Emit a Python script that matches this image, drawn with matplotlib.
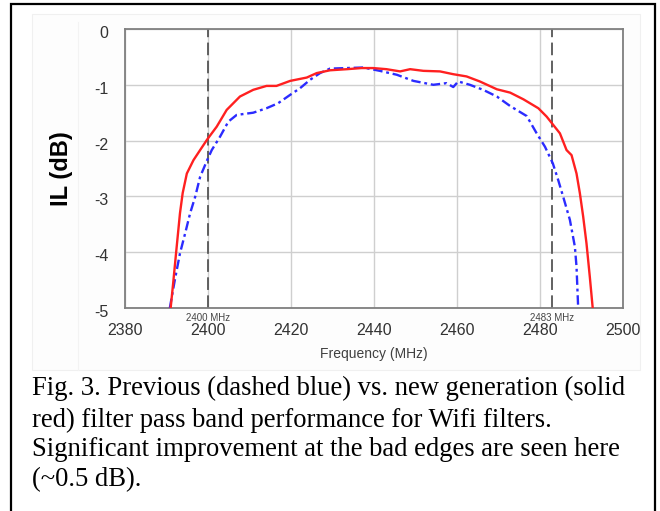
import matplotlib
matplotlib.use("Agg")
import matplotlib.pyplot as plt
import matplotlib.transforms as mtransforms
from matplotlib.patches import Rectangle

plt.rcParams["axes.unicode_minus"] = False

# ---- data ----
red_freq = [2391.0, 2391.6, 2392.3, 2393.25, 2393.9, 2394.9, 2396.5, 2398.1, 2399.8,
            2402.1, 2404.5, 2407.7, 2410.9, 2414.1, 2416.5, 2419.8, 2423.8, 2426.2,
            2429.4, 2433.5, 2437.0, 2439.8, 2443.0, 2446.3, 2448.7, 2451.9, 2455.9,
            2459.1, 2462.3, 2465.5, 2469.6, 2472.8, 2476.0, 2479.6, 2481.6, 2483.2,
            2484.8, 2486.4, 2487.6, 2488.8, 2489.6, 2490.4, 2491.2, 2492.0, 2492.7]
red_il = [-5.0, -4.56, -4.02, -3.30, -2.94, -2.59, -2.35, -2.17, -1.98,
          -1.75, -1.45, -1.21, -1.09, -1.02, -1.02, -0.93, -0.87, -0.79,
          -0.74, -0.72, -0.70, -0.70, -0.72, -0.76, -0.72, -0.75, -0.76,
          -0.81, -0.85, -0.94, -1.08, -1.14, -1.26, -1.42, -1.57, -1.72,
          -1.87, -2.17, -2.26, -2.59, -2.94, -3.36, -3.84, -4.44, -5.0]

blue_freq = [2390.8, 2392.0, 2393.25, 2394.5, 2395.7, 2396.9, 2398.1, 2399.8, 2400.9,
             2402.9, 2404.9, 2406.9, 2410.9, 2414.1, 2416.9, 2419.8, 2422.2, 2424.6,
             2427.0, 2429.4, 2433.4, 2437.4, 2441.4, 2445.5, 2449.5, 2454.3, 2457.5,
             2459.1, 2460.3, 2463.1, 2466.3, 2469.6, 2472.8, 2476.8, 2479.2, 2481.2,
             2483.1, 2484.4, 2485.6, 2487.2, 2488.4, 2488.8, 2489.2]
blue_il = [-5.0, -4.50, -4.02, -3.66, -3.30, -3.01, -2.65, -2.35, -2.17,
           -1.93, -1.66, -1.54, -1.50, -1.42, -1.33, -1.18, -1.06, -0.91,
           -0.79, -0.71, -0.70, -0.69, -0.75, -0.82, -0.93, -1.00, -0.97,
           -1.04, -0.94, -1.00, -1.09, -1.21, -1.38, -1.56, -1.87, -2.11,
           -2.41, -2.71, -3.01, -3.42, -3.90, -4.26, -5.0]

x_ticks = [2380, 2400, 2420, 2440, 2460, 2480, 2500]
y_ticks = [0, -1, -2, -3, -4, -5]
band_edges = [2400, 2483]
band_labels = ["2400 MHz", "2483 MHz"]

caption_lines = [
    "Fig. 3. Previous (dashed blue) vs. new generation (solid",
    "red) filter pass band performance for Wifi filters.",
    "Significant improvement at the bad edges are seen here",
    "(~0.5 dB).",
]

# ---- figure ----
W, H = 660, 511
fig = plt.figure(figsize=(W / 100, H / 100), dpi=100)
fig.patch.set_facecolor("white")

def fx(px):
    return px / W

def fy(py):
    return 1 - py / H

# outer border
fig.patches.append(Rectangle((fx(11), -0.02), fx(655) - fx(11), fy(4) + 0.02,
                             transform=fig.transFigure, fill=False,
                             edgecolor="black", linewidth=1.6, zorder=-2))
# faint chart panel
fig.patches.append(Rectangle((fx(32), fy(370)), fx(640) - fx(32), fy(14) - fy(370),
                             transform=fig.transFigure, facecolor="#fdfdfd",
                             edgecolor="#f0f0f0", linewidth=0.8, zorder=-2))
fig.add_artist(plt.Line2D([fx(78), fx(78)], [fy(370), fy(22)], transform=fig.transFigure,
                          color="#f3f3f3", linewidth=0.8, zorder=-1))

ax = fig.add_axes([fx(125), fy(308), fx(623) - fx(125), fy(29) - fy(308)])
ax.set_zorder(5)
ax.set_facecolor("white")
ax.set_xlim(2380, 2500)
ax.set_ylim(-5, 0)
ax.set_xticks(x_ticks)
ax.set_yticks(y_ticks)
ax.grid(True, color="#cfcfcf", linewidth=1.0)
ax.set_axisbelow(True)
for s in ax.spines.values():
    s.set_color("#7f7f7f")
    s.set_linewidth(1.3)
ax.tick_params(length=0, labelsize=11.5, labelcolor="#333333")
ax.tick_params(axis="y", pad=12)
ax.tick_params(axis="x", pad=11)
shift = mtransforms.ScaledTranslation(0, -3 / 100, fig.dpi_scale_trans)
for lab in ax.get_xticklabels() + ax.get_yticklabels():
    lab.set_family("Liberation Sans")
for lab in ax.get_yticklabels():
    lab.set_transform(lab.get_transform() + shift)

for xe in band_edges:
    ax.axvline(xe, color="#555555", linewidth=1.3, dashes=(7, 3), zorder=2)

ax.plot(blue_freq, blue_il, color="#2b2bff", linewidth=1.7,
        dashes=(4, 1.6, 1.2, 1.6), zorder=3)
ax.plot(red_freq, red_il, color="#ff2020", linewidth=1.7, zorder=4)

for xe, lab in zip(band_edges, band_labels):
    ax.annotate(lab, xy=(xe, -5), xycoords="data", xytext=(0, -7),
                textcoords="offset points", ha="center", va="center",
                fontsize=7, color="#444444", family="Liberation Sans",
                annotation_clip=False)

ax.set_xlabel("Frequency (MHz)", fontsize=10, color="#404040",
              family="Liberation Sans", labelpad=6)
ax.set_ylabel("IL (dB)", fontsize=17, fontweight="bold", color="black",
              family="Liberation Sans")
ax.yaxis.set_label_coords((73 - 125) / (623 - 125), 0.5)

# caption
line_y = [388, 420, 450, 480]
for txt, yy in zip(caption_lines, line_y):
    fig.text(fx(32), fy(yy), txt, ha="left", va="center", fontsize=19.2,
             family="Liberation Serif", color="black")

fig.savefig("out.png", dpi=100)
